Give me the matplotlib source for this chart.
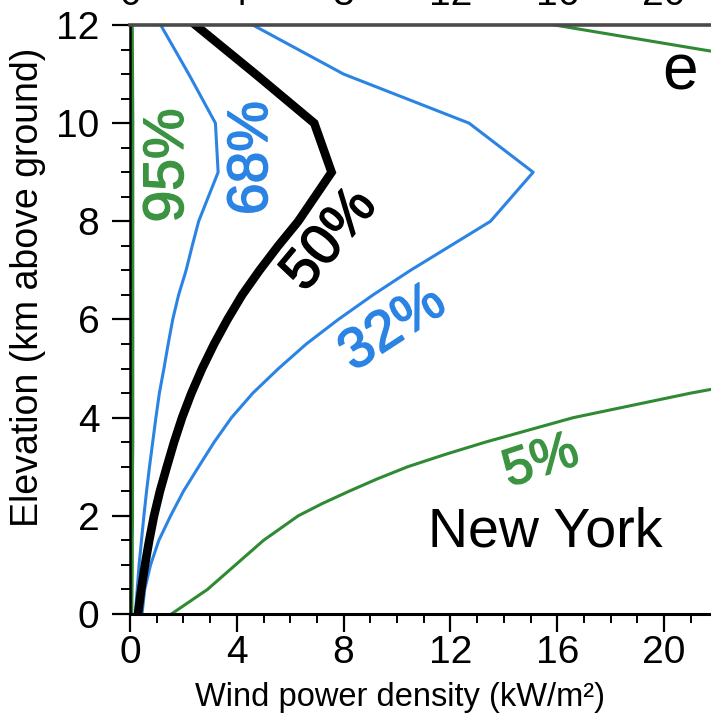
import matplotlib
matplotlib.use('Agg')
import matplotlib.pyplot as plt
import matplotlib.patheffects as pe
from matplotlib import font_manager
from matplotlib.ticker import MultipleLocator

# percentile profiles of wind power density (kW/m2) vs elevation (km)
z = [0, 0.5, 1, 1.5, 2, 2.5, 3, 3.5, 4, 4.5, 5, 5.5, 6, 6.5, 7, 7.5, 8, 9, 10, 11, 12]
p95 = [0.06, 0.07, 0.08, 0.08, 0.09, 0.09, 0.09, 0.1, 0.1, 0.1, 0.1,
       0.1, 0.1, 0.1, 0.1, 0.1, 0.1, 0.1, 0.1, 0.09, 0.08]
p68 = [0.2, 0.27, 0.34, 0.43, 0.52, 0.62, 0.73, 0.85, 0.97, 1.1, 1.27,
       1.43, 1.6, 1.82, 2.1, 2.33, 2.57, 3.3, 3.2, 2.2, 1.15]
p50 = [0.3, 0.42, 0.56, 0.72, 0.9, 1.12, 1.38, 1.65, 1.95, 2.3, 2.7,
       3.15, 3.65, 4.2, 4.85, 5.55, 6.3, 7.55, 6.9, 4.7, 2.45]
p32 = [0.45, 0.55, 0.77, 1.08, 1.52, 2.0, 2.57, 3.15, 3.8, 4.6, 5.56,
       6.6, 7.8, 9.1, 10.5, 12.0, 13.5, 15.1, 12.7, 8.0, 4.6]

z5 = [0, 0.5, 1, 1.5, 2, 2.25, 2.5, 2.75, 3, 3.25, 3.5, 4, 4.5, 5, 6, 7, 8, 9, 10, 11, 11.5, 12]
p5 = [1.55, 2.9, 3.95, 5.0, 6.3, 7.2, 8.2, 9.25, 10.4, 11.8, 13.3, 16.6, 21.0,
      26, 31, 35, 38, 39, 36, 27, 21.4, 15.9]

xticks = [0, 4, 8, 12, 16, 20]
yticks = [0, 2, 4, 6, 8, 10, 12]

blue = '#2b84e4'
green = '#2f8a33'
green_txt = '#3c9443'

plt.rcParams['font.family'] = ['Liberation Sans', 'DejaVu Sans']

# narrow face for the tick numbers when one is installed
names = set(font_manager.get_font_names())
tick_font = 'Liberation Sans'
for cand in ['Liberation Sans Narrow', 'DejaVu Sans Condensed']:
    if cand in names:
        tick_font = cand
        break
tick_size = 30 if tick_font != 'Liberation Sans' else 28

fig = plt.figure(figsize=(7.11, 7.18), dpi=100)
ax = fig.add_axes([130 / 711, 104 / 718, 24 * 26.7 / 711, 589 / 718])

ax.plot(p95, z, color=green, lw=2.4)
ax.plot(p5, z5, color=green, lw=2.2)
ax.plot(p68, z, color=blue, lw=2.2)
ax.plot(p32, z, color=blue, lw=2.2)
ax.plot(p50, z, color='black', lw=6.2, solid_joinstyle='miter')

ax.set_xlim(0, 24)
ax.set_ylim(0, 12)
ax.set_xticks(xticks)
ax.set_yticks(yticks)
ax.xaxis.set_minor_locator(MultipleLocator(1))
ax.yaxis.set_minor_locator(MultipleLocator(0.5))

ax.tick_params(which='major', direction='out', length=13, width=1.6)
ax.tick_params(which='minor', direction='out', length=6.5, width=1.4)
ax.tick_params(axis='x', which='major', pad=2, labelsize=tick_size)
ax.tick_params(axis='y', which='major', pad=9, labelsize=tick_size)
for lab in ax.get_xticklabels() + ax.get_yticklabels():
    lab.set_family(tick_font)

ax.spines['right'].set_visible(False)
ax.spines['left'].set_linewidth(1.8)
ax.spines['bottom'].set_linewidth(2.2)
ax.spines['top'].set_linewidth(2.6)
ax.spines['top'].set_color('#4a4a4a')

# tick numbers of the panel above, mostly beyond the top edge
top = ax.secondary_xaxis('top')
top.set_xticks(xticks)
top.tick_params(length=0, pad=8.5, labelsize=tick_size)
for lab in top.get_xticklabels():
    lab.set_family(tick_font)
top.spines['top'].set_visible(False)

ax.text(-0.159, 0.555, 'Elevation (km above ground)', transform=ax.transAxes,
        rotation=90, ha='center', va='center', fontsize=27)
ax.text(0.421, -0.1426, 'Wind power density (kW/m²)', transform=ax.transAxes,
        ha='center', va='center', fontsize=23.5)


def pct_label(x, y, s, color, rot, size=41):
    ax.text(x, y, s, color=color, rotation=rot, ha='center', va='center',
            fontsize=size,
            path_effects=[pe.withStroke(linewidth=1.1, foreground=color)])


pct_label(1.42, 9.14, '95%', green_txt, 90)
pct_label(4.57, 9.29, '68%', blue, 90)
pct_label(7.49, 7.62, '50%', 'black', 50)
pct_label(9.85, 5.82, '32%', blue, 33)
pct_label(15.39, 3.1, '5%', green_txt, 18, size=38)

ax.text(15.54, 1.67, 'New York', ha='center', va='center', fontsize=40)
ax.text(20.6, 11.04, 'e', ha='center', va='center', fontsize=46)

fig.savefig('out.png', dpi=100)
